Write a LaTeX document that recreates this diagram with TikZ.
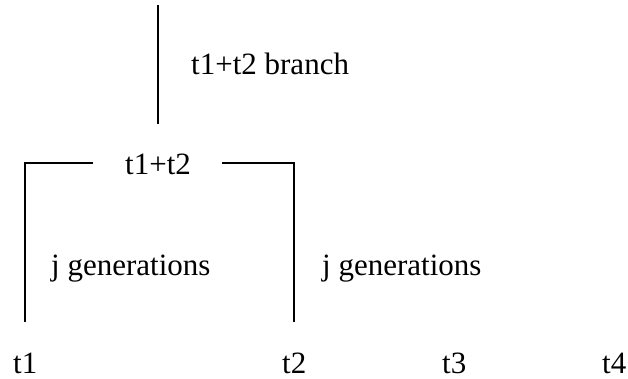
\documentclass[tikz,border=0pt]{standalone}
\usepackage{fontspec}
\setmainfont{Liberation Serif}
\begin{document}
\begin{tikzpicture}[x=1pt,y=-1pt,
  lbl/.style={inner sep=0pt,anchor=base west,font=\fontsize{31}{36}\selectfont},
  ln/.style={line width=2pt,black}]
\useasboundingbox (0,0) rectangle (628,379);
% coordinates
\coordinate (top) at (158,5);
\coordinate (stem) at (158,124);
\coordinate (bl) at (25,163);
\coordinate (blend) at (93,163);
\coordinate (brstart) at (222,163);
\coordinate (br) at (294,163);
\coordinate (lbot) at (25,322);
\coordinate (rbot) at (294,322);
% lines
\draw[ln] (top) -- (stem);
\draw[ln] (blend) -- (bl) -- (lbot);
\draw[ln] (brstart) -- (br) -- (rbot);
% labels
\node[lbl] (branch) at (191,75) {t1+t2 branch};
\node[lbl,anchor=base] (sum) at (158,175) {t1+t2};
\node[lbl] (genl) at (51,275) {j generations};
\node[lbl] (genr) at (322,275) {j generations};
\node[lbl] (t1) at (13,373) {t1};
\node[lbl] (t2) at (282,373) {t2};
\node[lbl] (t3) at (442,373) {t3};
\node[lbl] (t4) at (602,373) {t4};
\end{tikzpicture}
\end{document}
